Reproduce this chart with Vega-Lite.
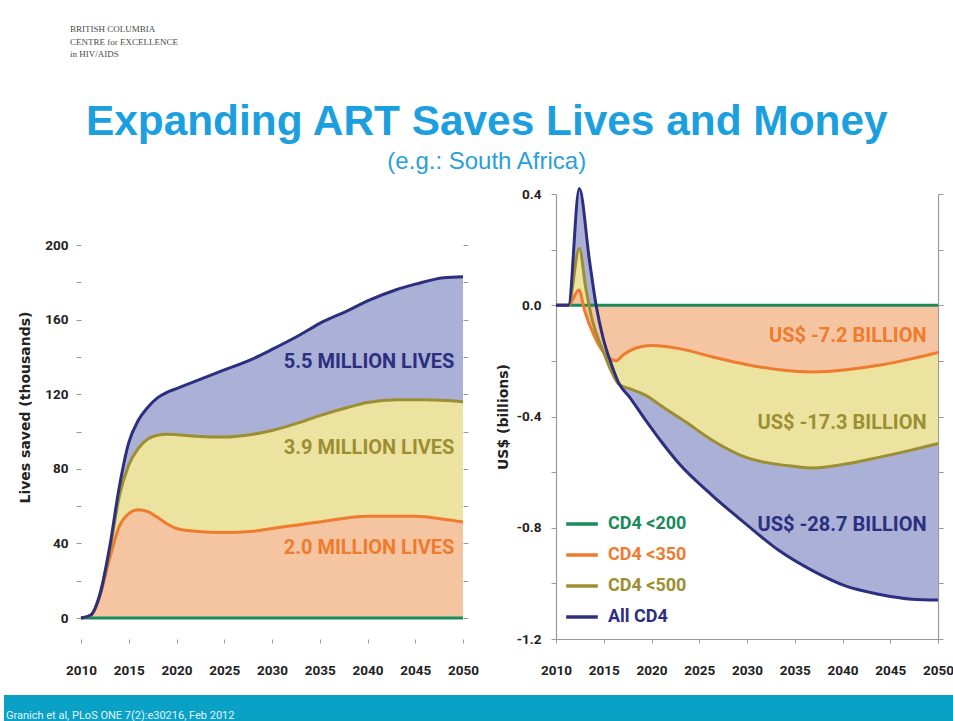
{
  "$schema": "https://vega.github.io/schema/vega-lite/v6.json",
  "background": "white",
  "padding": {"left": 4, "top": 25, "right": 0, "bottom": 0},
  "datasets": {
    "lives": [
      {"series": "CD4 <200", "year": 2010, "value": 0},
      {"series": "CD4 <200", "year": 2030, "value": 0},
      {"series": "CD4 <200", "year": 2050, "value": 0},
      {"series": "CD4 <350", "year": 2010, "value": 0},
      {"series": "CD4 <350", "year": 2011, "value": 1.5},
      {"series": "CD4 <350", "year": 2012, "value": 12},
      {"series": "CD4 <350", "year": 2013, "value": 32},
      {"series": "CD4 <350", "year": 2014, "value": 49},
      {"series": "CD4 <350", "year": 2015, "value": 56},
      {"series": "CD4 <350", "year": 2016, "value": 58},
      {"series": "CD4 <350", "year": 2017, "value": 57},
      {"series": "CD4 <350", "year": 2018, "value": 54},
      {"series": "CD4 <350", "year": 2019, "value": 50.5},
      {"series": "CD4 <350", "year": 2020, "value": 48},
      {"series": "CD4 <350", "year": 2022, "value": 46.5},
      {"series": "CD4 <350", "year": 2025, "value": 45.8},
      {"series": "CD4 <350", "year": 2028, "value": 46.5},
      {"series": "CD4 <350", "year": 2030, "value": 48},
      {"series": "CD4 <350", "year": 2035, "value": 51.5},
      {"series": "CD4 <350", "year": 2040, "value": 54.5},
      {"series": "CD4 <350", "year": 2045, "value": 54.5},
      {"series": "CD4 <350", "year": 2048, "value": 53},
      {"series": "CD4 <350", "year": 2050, "value": 51.5},
      {"series": "CD4 <500", "year": 2010, "value": 0},
      {"series": "CD4 <500", "year": 2011, "value": 1.5},
      {"series": "CD4 <500", "year": 2012, "value": 13},
      {"series": "CD4 <500", "year": 2013, "value": 36},
      {"series": "CD4 <500", "year": 2014, "value": 65},
      {"series": "CD4 <500", "year": 2015, "value": 82},
      {"series": "CD4 <500", "year": 2016, "value": 91},
      {"series": "CD4 <500", "year": 2017, "value": 96},
      {"series": "CD4 <500", "year": 2018, "value": 98},
      {"series": "CD4 <500", "year": 2019, "value": 98.5},
      {"series": "CD4 <500", "year": 2020, "value": 98.3},
      {"series": "CD4 <500", "year": 2022, "value": 97.5},
      {"series": "CD4 <500", "year": 2025, "value": 97},
      {"series": "CD4 <500", "year": 2028, "value": 98.5},
      {"series": "CD4 <500", "year": 2030, "value": 100.5},
      {"series": "CD4 <500", "year": 2033, "value": 105},
      {"series": "CD4 <500", "year": 2035, "value": 108.5},
      {"series": "CD4 <500", "year": 2038, "value": 113},
      {"series": "CD4 <500", "year": 2040, "value": 115.5},
      {"series": "CD4 <500", "year": 2043, "value": 117},
      {"series": "CD4 <500", "year": 2046, "value": 117},
      {"series": "CD4 <500", "year": 2050, "value": 116},
      {"series": "All CD4", "year": 2010, "value": 0},
      {"series": "All CD4", "year": 2011, "value": 1.5},
      {"series": "All CD4", "year": 2012, "value": 13},
      {"series": "All CD4", "year": 2013, "value": 38},
      {"series": "All CD4", "year": 2014, "value": 70},
      {"series": "All CD4", "year": 2015, "value": 94},
      {"series": "All CD4", "year": 2016, "value": 106},
      {"series": "All CD4", "year": 2017, "value": 113},
      {"series": "All CD4", "year": 2018, "value": 118},
      {"series": "All CD4", "year": 2019, "value": 121},
      {"series": "All CD4", "year": 2020, "value": 123},
      {"series": "All CD4", "year": 2022, "value": 127},
      {"series": "All CD4", "year": 2025, "value": 133},
      {"series": "All CD4", "year": 2028, "value": 139},
      {"series": "All CD4", "year": 2030, "value": 144},
      {"series": "All CD4", "year": 2033, "value": 152},
      {"series": "All CD4", "year": 2035, "value": 158},
      {"series": "All CD4", "year": 2038, "value": 165},
      {"series": "All CD4", "year": 2040, "value": 170},
      {"series": "All CD4", "year": 2043, "value": 176},
      {"series": "All CD4", "year": 2045, "value": 179},
      {"series": "All CD4", "year": 2048, "value": 182.5},
      {"series": "All CD4", "year": 2050, "value": 183}
    ],
    "livesLabels": [
      {"series": "All CD4", "year": 2049.1, "value": 137.5, "label": "5.5 MILLION LIVES"},
      {"series": "CD4 <500", "year": 2049.1, "value": 91.2, "label": "3.9 MILLION LIVES"},
      {"series": "CD4 <350", "year": 2049.1, "value": 37.6, "label": "2.0 MILLION LIVES"}
    ],
    "cost": [
      {"series": "CD4 <200", "year": 2010, "value": 0},
      {"series": "CD4 <200", "year": 2030, "value": 0},
      {"series": "CD4 <200", "year": 2050, "value": 0},
      {"series": "CD4 <350", "year": 2010, "value": 0},
      {"series": "CD4 <350", "year": 2011.3, "value": 0},
      {"series": "CD4 <350", "year": 2012.4, "value": 0.055},
      {"series": "CD4 <350", "year": 2013, "value": -0.02},
      {"series": "CD4 <350", "year": 2014, "value": -0.11},
      {"series": "CD4 <350", "year": 2015, "value": -0.17},
      {"series": "CD4 <350", "year": 2016.3, "value": -0.2},
      {"series": "CD4 <350", "year": 2017, "value": -0.18},
      {"series": "CD4 <350", "year": 2017.8, "value": -0.162},
      {"series": "CD4 <350", "year": 2019, "value": -0.148},
      {"series": "CD4 <350", "year": 2020.1, "value": -0.145},
      {"series": "CD4 <350", "year": 2022.9, "value": -0.156},
      {"series": "CD4 <350", "year": 2026.4, "value": -0.186},
      {"series": "CD4 <350", "year": 2029.9, "value": -0.213},
      {"series": "CD4 <350", "year": 2033.4, "value": -0.232},
      {"series": "CD4 <350", "year": 2036.9, "value": -0.24},
      {"series": "CD4 <350", "year": 2040.4, "value": -0.232},
      {"series": "CD4 <350", "year": 2043.8, "value": -0.216},
      {"series": "CD4 <350", "year": 2047.3, "value": -0.192},
      {"series": "CD4 <350", "year": 2050, "value": -0.17},
      {"series": "CD4 <500", "year": 2010, "value": 0},
      {"series": "CD4 <500", "year": 2011.3, "value": 0},
      {"series": "CD4 <500", "year": 2012.44, "value": 0.204},
      {"series": "CD4 <500", "year": 2013.1, "value": 0.066},
      {"series": "CD4 <500", "year": 2013.8, "value": -0.054},
      {"series": "CD4 <500", "year": 2014.9, "value": -0.162},
      {"series": "CD4 <500", "year": 2015.75, "value": -0.234},
      {"series": "CD4 <500", "year": 2016.6, "value": -0.285},
      {"series": "CD4 <500", "year": 2017.7, "value": -0.3},
      {"series": "CD4 <500", "year": 2019.4, "value": -0.324},
      {"series": "CD4 <500", "year": 2021.2, "value": -0.366},
      {"series": "CD4 <500", "year": 2023.6, "value": -0.42},
      {"series": "CD4 <500", "year": 2026.4, "value": -0.486},
      {"series": "CD4 <500", "year": 2029.9, "value": -0.547},
      {"series": "CD4 <500", "year": 2035.1, "value": -0.58},
      {"series": "CD4 <500", "year": 2036.9, "value": -0.585},
      {"series": "CD4 <500", "year": 2040.3, "value": -0.571},
      {"series": "CD4 <500", "year": 2043.8, "value": -0.547},
      {"series": "CD4 <500", "year": 2047.3, "value": -0.52},
      {"series": "CD4 <500", "year": 2050, "value": -0.497},
      {"series": "All CD4", "year": 2010, "value": 0},
      {"series": "All CD4", "year": 2011.3, "value": 0},
      {"series": "All CD4", "year": 2012.44, "value": 0.42},
      {"series": "All CD4", "year": 2013.5, "value": 0.162},
      {"series": "All CD4", "year": 2014.2, "value": 0},
      {"series": "All CD4", "year": 2014.9, "value": -0.114},
      {"series": "All CD4", "year": 2015.9, "value": -0.222},
      {"series": "All CD4", "year": 2016.6, "value": -0.282},
      {"series": "All CD4", "year": 2017.7, "value": -0.33},
      {"series": "All CD4", "year": 2019.4, "value": -0.414},
      {"series": "All CD4", "year": 2021.2, "value": -0.498},
      {"series": "All CD4", "year": 2022.9, "value": -0.57},
      {"series": "All CD4", "year": 2026.4, "value": -0.685},
      {"series": "All CD4", "year": 2029.9, "value": -0.787},
      {"series": "All CD4", "year": 2033.4, "value": -0.883},
      {"series": "All CD4", "year": 2036.9, "value": -0.955},
      {"series": "All CD4", "year": 2040.3, "value": -1.009},
      {"series": "All CD4", "year": 2043.8, "value": -1.039},
      {"series": "All CD4", "year": 2047.3, "value": -1.057},
      {"series": "All CD4", "year": 2050, "value": -1.06}
    ],
    "costLabels": [
      {"series": "CD4 <350", "year": 2048.8, "value": -0.111, "label": "US$ -7.2 BILLION"},
      {"series": "CD4 <500", "year": 2048.8, "value": -0.425, "label": "US$ -17.3 BILLION"},
      {"series": "All CD4", "year": 2048.8, "value": -0.79, "label": "US$ -28.7 BILLION"}
    ],
    "footer": [
      {"ref": "Granich et al, PLoS ONE 7(2):e30216, Feb 2012"}
    ]
  },
  "vconcat": [
    {
      "width": 949,
      "height": 24,
      "data": {"values": [{}]},
      "mark": {"type": "rect", "opacity": 0},
      "encoding": {},
      "title": {
        "text": ["BRITISH COLUMBIA", "CENTRE for EXCELLENCE", "in HIV/AIDS"],
        "orient": "top",
        "anchor": "start",
        "offset": 0,
        "dx": 66,
        "font": "Liberation Serif",
        "fontSize": 9,
        "fontWeight": "normal",
        "lineHeight": 12.5,
        "color": "#4a4a4a"
      }
    },
    {
      "title": {
        "text": "Expanding ART Saves Lives and Money",
        "subtitle": "(e.g.: South Africa)",
        "anchor": "middle",
        "dx": 8,
        "font": "Liberation Sans",
        "fontSize": 42.4,
        "fontWeight": "bold",
        "color": "#1c9fdf",
        "subtitleFont": "Liberation Sans",
        "subtitleFontSize": 24,
        "subtitleColor": "#2aa0d8",
        "subtitlePadding": 6,
        "offset": 7
      },
      "hconcat": [
        {
          "width": 459,
          "height": 445,
          "data": {"name": "lives"},
          "encoding": {
            "x": {
              "field": "year",
              "type": "quantitative",
              "scale": {"domain": [2001.937, 2050], "nice": false, "zero": false},
              "axis": {"values": [2010, 2015, 2020, 2025, 2030, 2035, 2040, 2045, 2050], "format": "d", "domain": false, "title": null, "tickSize": 4, "labelPadding": 20, "labelOverlap": false, "labelFlush": false}
            }
          },
          "layer": [
            {
              "transform": [{"filter": "datum.series === 'All CD4'"}],
              "mark": {"type": "area", "interpolate": "monotone", "color": "#aab0d6", "opacity": 1},
              "encoding": {
                "y": {
                  "field": "value", "type": "quantitative",
                  "scale": {"domain": [-11.26, 227.35], "nice": false, "zero": false},
                  "axis": {"orient": "left", "offset": -77, "domain": false, "values": [0, 20, 40, 60, 80, 100, 120, 140, 160, 180, 200], "labelExpr": "datum.value % 40 === 0 ? datum.label : ''", "title": "Lives saved (thousands)", "titleY": 213, "tickSize": 5, "labelPadding": 8, "titlePadding": 12}
                }
              }
            },
            {
              "transform": [{"filter": "datum.series === 'CD4 <500'"}],
              "mark": {"type": "area", "interpolate": "monotone", "color": "#ede3a1", "opacity": 1},
              "encoding": {
                "y": {
                  "field": "value", "type": "quantitative",
                  "scale": {"domain": [-11.26, 227.35], "nice": false, "zero": false},
                  "axis": {"orient": "right", "domain": false, "values": [0, 20, 40, 60, 80, 100, 120, 140, 160, 180, 200], "labels": false, "title": null, "tickSize": 5}
                }
              }
            },
            {
              "transform": [{"filter": "datum.series === 'CD4 <350'"}],
              "mark": {"type": "area", "interpolate": "monotone", "color": "#f5c4a0", "opacity": 1},
              "encoding": {
                "y": {"field": "value", "type": "quantitative", "scale": {"domain": [-11.26, 227.35], "nice": false, "zero": false}, "axis": null}
              }
            },
            {
              "data": {"values": [{}]},
              "mark": {"type": "rule", "color": "#9a9a9a", "strokeWidth": 1.2},
              "encoding": {
                "x": {"datum": 2010, "type": "quantitative", "scale": {"domain": [2001.937, 2050], "nice": false, "zero": false}},
                "y": {"datum": 0, "type": "quantitative", "scale": {"domain": [-11.26, 227.35], "nice": false, "zero": false}, "axis": null},
                "y2": {"datum": 200}
              }
            },
            {
              "data": {"values": [{}]},
              "mark": {"type": "rule", "color": "#9a9a9a", "strokeWidth": 1.2},
              "encoding": {
                "x": {"datum": 2050, "type": "quantitative", "scale": {"domain": [2001.937, 2050], "nice": false, "zero": false}},
                "y": {"datum": 0, "type": "quantitative", "scale": {"domain": [-11.26, 227.35], "nice": false, "zero": false}, "axis": null},
                "y2": {"datum": 200}
              }
            },
            {
              "data": {"values": [{}]},
              "mark": {"type": "rule", "color": "#9a9a9a", "strokeWidth": 1.2},
              "encoding": {
                "x": {"datum": 2010, "type": "quantitative", "scale": {"domain": [2001.937, 2050], "nice": false, "zero": false}},
                "x2": {"datum": 2050},
                "y": {"datum": -11.26, "type": "quantitative", "scale": {"domain": [-11.26, 227.35], "nice": false, "zero": false}, "axis": null}
              }
            },
            {
              "mark": {"type": "line", "interpolate": "monotone", "strokeWidth": 3},
              "encoding": {
                "y": {"field": "value", "type": "quantitative", "scale": {"domain": [-11.26, 227.35], "nice": false, "zero": false}, "axis": null},
                "color": {
                  "field": "series", "type": "nominal",
                  "scale": {"domain": ["CD4 <200", "CD4 <350", "CD4 <500", "All CD4"], "range": ["#1b8a5a", "#ee7b2e", "#9c8f32", "#2c2f80"]},
                  "legend": null
                }
              }
            },
            {
              "data": {"name": "livesLabels"},
              "mark": {"type": "text", "align": "right", "baseline": "middle", "font": "Roboto", "fontSize": 20, "fontWeight": "bold"},
              "encoding": {
                "y": {"field": "value", "type": "quantitative", "scale": {"domain": [-11.26, 227.35], "nice": false, "zero": false}, "axis": null},
                "text": {"field": "label"},
                "color": {
                  "field": "series", "type": "nominal",
                  "scale": {"domain": ["CD4 <200", "CD4 <350", "CD4 <500", "All CD4"], "range": ["#1b8a5a", "#ee7b2e", "#9c8f32", "#2c2f80"]},
                  "legend": null
                }
              }
            }
          ],
          "resolve": {"axis": {"y": "independent"}}
        },
        {
          "width": 382,
          "height": 445,
          "data": {"name": "cost"},
          "encoding": {
            "x": {
              "field": "year",
              "type": "quantitative",
              "scale": {"domain": [2010, 2050], "nice": false, "zero": false},
              "axis": {"values": [2010, 2015, 2020, 2025, 2030, 2035, 2040, 2045, 2050], "format": "d", "title": null, "tickSize": 4, "labelPadding": 20, "labelOverlap": false, "labelFlush": false}
            }
          },
          "layer": [
            {
              "transform": [{"filter": "datum.series === 'All CD4'"}],
              "mark": {"type": "area", "interpolate": "monotone", "color": "#aab0d6", "opacity": 1},
              "encoding": {
                "y": {
                  "field": "value", "type": "quantitative",
                  "scale": {"domain": [-1.2, 0.4], "nice": false},
                  "axis": {"orient": "left", "values": [-1.2, -1.0, -0.8, -0.6, -0.4, -0.2, 0, 0.2, 0.4], "format": ".1f", "labelExpr": "abs(round(datum.value * 10)) % 4 === 0 ? replace(datum.label, '\u2212', '-') : ''", "title": "US$ (billions)", "tickSize": 5, "labelPadding": 10, "titlePadding": 6}
                }
              }
            },
            {
              "transform": [{"filter": "datum.series === 'CD4 <500'"}],
              "mark": {"type": "area", "interpolate": "monotone", "color": "#ede3a1", "opacity": 1},
              "encoding": {
                "y": {
                  "field": "value", "type": "quantitative",
                  "scale": {"domain": [-1.2, 0.4], "nice": false},
                  "axis": {"orient": "right", "values": [-1.2, -1.0, -0.8, -0.6, -0.4, -0.2, 0, 0.2, 0.4], "labels": false, "title": null, "tickSize": 5}
                }
              }
            },
            {
              "transform": [{"filter": "datum.series === 'CD4 <350'"}],
              "mark": {"type": "area", "interpolate": "monotone", "color": "#f5c4a0", "opacity": 1},
              "encoding": {
                "y": {"field": "value", "type": "quantitative", "scale": {"domain": [-1.2, 0.4], "nice": false}, "axis": null}
              }
            },
            {
              "mark": {"type": "line", "interpolate": "monotone", "strokeWidth": 3},
              "encoding": {
                "y": {"field": "value", "type": "quantitative", "scale": {"domain": [-1.2, 0.4], "nice": false}, "axis": null},
                "color": {
                  "field": "series", "type": "nominal",
                  "scale": {"domain": ["CD4 <200", "CD4 <350", "CD4 <500", "All CD4"], "range": ["#1b8a5a", "#ee7b2e", "#9c8f32", "#2c2f80"]},
                  "legend": {
                    "orient": "none",
                    "legendX": 8,
                    "legendY": 312,
                    "title": null,
                    "padding": 0,
                    "symbolType": "stroke",
                    "symbolStrokeWidth": 3.5,
                    "symbolSize": 1000,
                    "labelFont": "Roboto",
                    "labelFontSize": 18,
                    "labelFontWeight": "bold",
                    "labelOffset": 8,
                    "labelLimit": 200,
                    "rowPadding": 4,
                    "encode": {
                      "labels": {
                        "update": {
                          "fill": {"signal": "datum.label === 'CD4 <200' ? '#1b8a5a' : datum.label === 'CD4 <350' ? '#ee7b2e' : datum.label === 'CD4 <500' ? '#9c8f32' : '#2c2f80'"}
                        }
                      }
                    }
                  }
                }
              }
            },
            {
              "data": {"name": "costLabels"},
              "mark": {"type": "text", "align": "right", "baseline": "middle", "font": "Roboto", "fontSize": 20, "fontWeight": "bold"},
              "encoding": {
                "y": {"field": "value", "type": "quantitative", "scale": {"domain": [-1.2, 0.4], "nice": false}, "axis": null},
                "text": {"field": "label"},
                "color": {
                  "field": "series", "type": "nominal",
                  "scale": {"domain": ["CD4 <200", "CD4 <350", "CD4 <500", "All CD4"], "range": ["#1b8a5a", "#ee7b2e", "#9c8f32", "#2c2f80"]},
                  "legend": null
                }
              }
            }
          ],
          "resolve": {"axis": {"y": "independent"}}
        }
      ],
      "bounds": "flush",
      "spacing": 93,
      "resolve": {"scale": {"color": "independent"}, "legend": {"color": "independent"}}
    },
    {
      "width": 949,
      "height": 28,
      "data": {"name": "footer"},
      "mark": {"type": "rect", "color": "#0aa1c7"},
      "encoding": {},
      "title": {
        "text": "Granich et al, PLoS ONE 7(2):e30216, Feb 2012",
        "orient": "top",
        "anchor": "start",
        "offset": -26,
        "dx": 2,
        "font": "Roboto",
        "fontSize": 11,
        "fontWeight": "normal",
        "color": "#e2f4f9"
      }
    }
  ],
  "spacing": 18,
  "config": {
    "view": {"stroke": null},
    "axis": {
      "grid": false,
      "domainColor": "#9a9a9a",
      "tickColor": "#9a9a9a",
      "domainWidth": 1.2,
      "labelFont": "Roboto",
      "labelFontSize": 13.5,
      "labelFontWeight": "bold",
      "labelColor": "#222222",
      "titleFont": "DejaVu Sans",
      "titleFontSize": 14,
      "titleFontWeight": "bold",
      "titleColor": "#222222"
    }
  }
}
